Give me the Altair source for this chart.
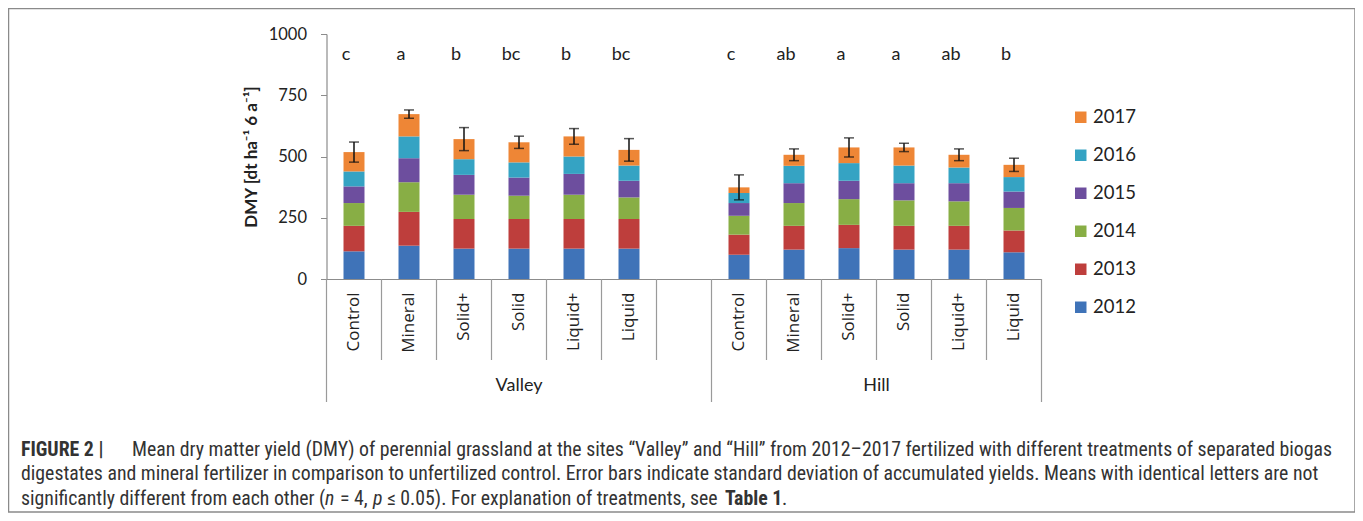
import altair as alt
import pandas as pd

sites = ["Valley", "Hill"]
treatments = ["Control", "Mineral", "Solid+", "Solid", "Liquid+", "Liquid"]
years = ["2012", "2013", "2014", "2015", "2016", "2017"]

# yearly dry matter yield per treatment (dt/ha)
valley_2012 = [113, 136, 124, 124, 124, 124]
valley_2013 = [104, 138, 121, 121, 121, 121]
valley_2014 = [93, 121, 99, 95, 99, 88]
valley_2015 = [68, 98, 81, 74, 85, 68]
valley_2016 = [61, 89, 64, 62, 71, 62]
valley_2017 = [79, 91, 82, 82, 82, 64]

hill_2012 = [99, 120, 126, 120, 120, 109]
hill_2013 = [82, 97, 95, 97, 97, 89]
hill_2014 = [77, 93, 105, 104, 100, 92]
hill_2015 = [52, 81, 75, 70, 74, 67]
hill_2016 = [41, 71, 72, 72, 64, 59]
hill_2017 = [23, 45, 64, 74, 52, 50]

valley_sd = [41, 17, 47, 25, 32, 46]
hill_sd = [51, 24, 39, 17, 24, 27]

valley_letters = ["c", "a", "b", "bc", "b", "bc"]
hill_letters = ["c", "ab", "a", "a", "ab", "b"]

year_colors = ["#EE8636", "#35A3C3", "#6D4E9E", "#88AE45", "#BE3E3C", "#3F73B8"]  # 2017 .. 2012

caption_1a = "FIGURE 2 |"
caption_1b = ("Mean dry matter yield (DMY) of perennial grassland at the sites \u201cValley\u201d and \u201cHill\u201d "
              "from 2012\u20132017 fertilized with different treatments of separated biogas")
caption_2 = ("digestates and mineral fertilizer in comparison to unfertilized control. Error bars indicate "
             "standard deviation of accumulated yields. Means with identical letters are not")
caption_3a = "significantly different from each other ("
caption_3b = "n"
caption_3c = "= 4,"
caption_3d = "p"
caption_3e = "\u2264 0.05). For explanation of treatments, see"
caption_3f = "Table 1"
caption_3g = "."

# ---------------------------------------------------------------- tables
series = {
    "Valley": [valley_2012, valley_2013, valley_2014, valley_2015, valley_2016, valley_2017],
    "Hill": [hill_2012, hill_2013, hill_2014, hill_2015, hill_2016, hill_2017],
}
sds = {"Valley": valley_sd, "Hill": hill_sd}
letters = {"Valley": valley_letters, "Hill": hill_letters}

keys = [f"Valley|{t}" for t in treatments] + ["Valley|"] + [f"Hill|{t}" for t in treatments]

rows, tot_rows = [], []
for s in sites:
    for i, t in enumerate(treatments):
        total = 0
        for yi, y in enumerate(years):
            v = series[s][yi][i]
            total += v
            rows.append({"key": f"{s}|{t}", "year": y, "yi": yi, "v": v})
        tot_rows.append({"key": f"{s}|{t}", "lo": total - sds[s][i], "hi": total + sds[s][i],
                         "letter": letters[s][i]})
df = pd.DataFrame(rows)
tot = pd.DataFrame(tot_rows)

xscale = alt.Scale(domain=keys, paddingInner=0, paddingOuter=0)
H = 245

xenc = alt.X("key:N", scale=xscale, sort=keys,
             axis=alt.Axis(title=None, ticks=False, domainColor="#8c8c8c", domainWidth=1.2,
                           labelAngle=270, labelAlign="right", labelBaseline="middle",
                           labelPadding=13, labelFont="Open Sans", labelFontSize=17,
                           labelColor="#222", labelExpr="split(datum.label, '|')[1]"))

bars = alt.Chart(df).mark_bar(size=21).encode(
    x=xenc,
    y=alt.Y("v:Q", stack="zero", scale=alt.Scale(domain=[0, 1000], nice=False),
            axis=alt.Axis(values=[0, 250, 500, 750, 1000], format="d", grid=False,
                          domainColor="#8c8c8c", domainWidth=1.2, tickColor="#8c8c8c",
                          tickSize=6, labelFont="Lato", labelFontSize=16.5, labelColor="#222",
                          labelPadding=14, title="DMY [dt ha\u207b\u00b9 6 a\u207b\u00b9]",
                          titleFont="Lato", titleFontSize=17, titleFontWeight="bold",
                          titleColor="#222", titlePadding=8)),
    color=alt.Color("year:N", scale=alt.Scale(domain=years[::-1], range=year_colors),
                    legend=alt.Legend(title=None, orient="none", legendX=745, legendY=74,
                                      symbolType="square", symbolSize=132, symbolStrokeWidth=0,
                                      labelFont="Lato", labelFontSize=18.5, labelColor="#222",
                                      rowPadding=19, padding=0, labelOffset=3)),
    order=alt.Order("yi:Q", sort="ascending"),
)

base_tot = alt.Chart(tot)
err = base_tot.mark_rule(color="#111", strokeWidth=1.5).encode(
    x=alt.X("key:N", scale=xscale, sort=keys), y="lo:Q", y2="hi:Q")
cap_hi = base_tot.mark_tick(color="#111", thickness=1.5, size=10).encode(
    x=alt.X("key:N", scale=xscale, sort=keys), y="hi:Q")
cap_lo = base_tot.mark_tick(color="#111", thickness=1.5, size=10).encode(
    x=alt.X("key:N", scale=xscale, sort=keys), y="lo:Q")
let = base_tot.mark_text(font="Lato", fontSize=18, color="#222", baseline="alphabetic", dx=-8).encode(
    x=alt.X("key:N", scale=xscale, sort=keys), y=alt.value(26), text="letter:N")

# separators of the category axis
short_keys = [k for k in keys if k not in ("Valley|Control", "Hill|Control")]
seps_short = alt.Chart(pd.DataFrame({"key": short_keys})).mark_rule(color="#9a9a9a", strokeWidth=1.2).encode(
    x=alt.X("key:N", scale=xscale, sort=keys, bandPosition=0), y=alt.value(H), y2=alt.value(H + 81))
seps_long = alt.Chart(pd.DataFrame({"key": ["Valley|Control", "Hill|Control"]})).mark_rule(
    color="#9a9a9a", strokeWidth=1.2).encode(
    x=alt.X("key:N", scale=xscale, sort=keys, bandPosition=0), y=alt.value(H), y2=alt.value(H + 123))
seps_end = alt.Chart(pd.DataFrame({"key": [keys[-1]]})).mark_rule(color="#9a9a9a", strokeWidth=1.2).encode(
    x=alt.X("key:N", scale=xscale, sort=keys, bandPosition=1), y=alt.value(H), y2=alt.value(H + 123))

grp_valley = alt.Chart(pd.DataFrame({"key": ["Valley|Solid"], "g": [sites[0]]})).mark_text(
    font="Lato", fontSize=18, color="#222", baseline="middle").encode(
    x=alt.X("key:N", scale=xscale, sort=keys), y=alt.value(352), text="g:N")
grp_hill = alt.Chart(pd.DataFrame({"key": ["Hill|Solid"], "g": [sites[1]]})).mark_text(
    font="Lato", fontSize=18, color="#222", baseline="middle").encode(
    x=alt.X("key:N", scale=xscale, sort=keys, bandPosition=0), y=alt.value(352), text="g:N")

CAP_FONT = "Liberation Sans Narrow, Roboto Condensed, Liberation Sans"
CAP_SIZE = 19.8


def cap(txt, x, y, weight="normal", style="normal"):
    return alt.Chart(pd.DataFrame({"t": [txt]})).mark_text(
        font=CAP_FONT, fontSize=CAP_SIZE, fontWeight=weight, fontStyle=style, color="#333",
        align="left", baseline="alphabetic").encode(x=alt.value(x), y=alt.value(y), text="t:N")


X0 = -326.5  # page-to-plot offset
captions = [
    cap(caption_1a, X0 + 21, 421.5, weight="bold"),
    cap(caption_1b, X0 + 132, 421.5),
    cap(caption_2, X0 + 21, 446),
    cap(caption_3a, X0 + 21, 470.5),
    cap(caption_3b, X0 + 325, 470.5, style="italic"),
    cap(caption_3c, X0 + 340, 470.5),
    cap(caption_3d, X0 + 373, 470.5, style="italic"),
    cap(caption_3e, X0 + 387, 470.5),
    cap(caption_3f, X0 + 725, 470.5, weight="bold"),
    cap(caption_3g, X0 + 782, 470.5),
]

frame = alt.Chart(pd.DataFrame({"a": [0]})).mark_rect(filled=False, stroke="#8a8a8a", strokeWidth=1.5).encode(
    x=alt.value(-318), x2=alt.value(1028.5), y=alt.value(-25.5), y2=alt.value(478))

chart = alt.layer(bars, err, cap_hi, cap_lo, let, seps_short, seps_long, seps_end,
                  grp_valley, grp_hill, *captions, frame).properties(
    width=715, height=H,
    padding={"left": 318.5, "top": 26, "right": 313.5, "bottom": 234},
    autosize=alt.AutoSizeParams(type="none"),
    background="white",
).configure_view(stroke=None)

chart.save("out.html", embed_options={"renderer": "svg", "actions": False})
